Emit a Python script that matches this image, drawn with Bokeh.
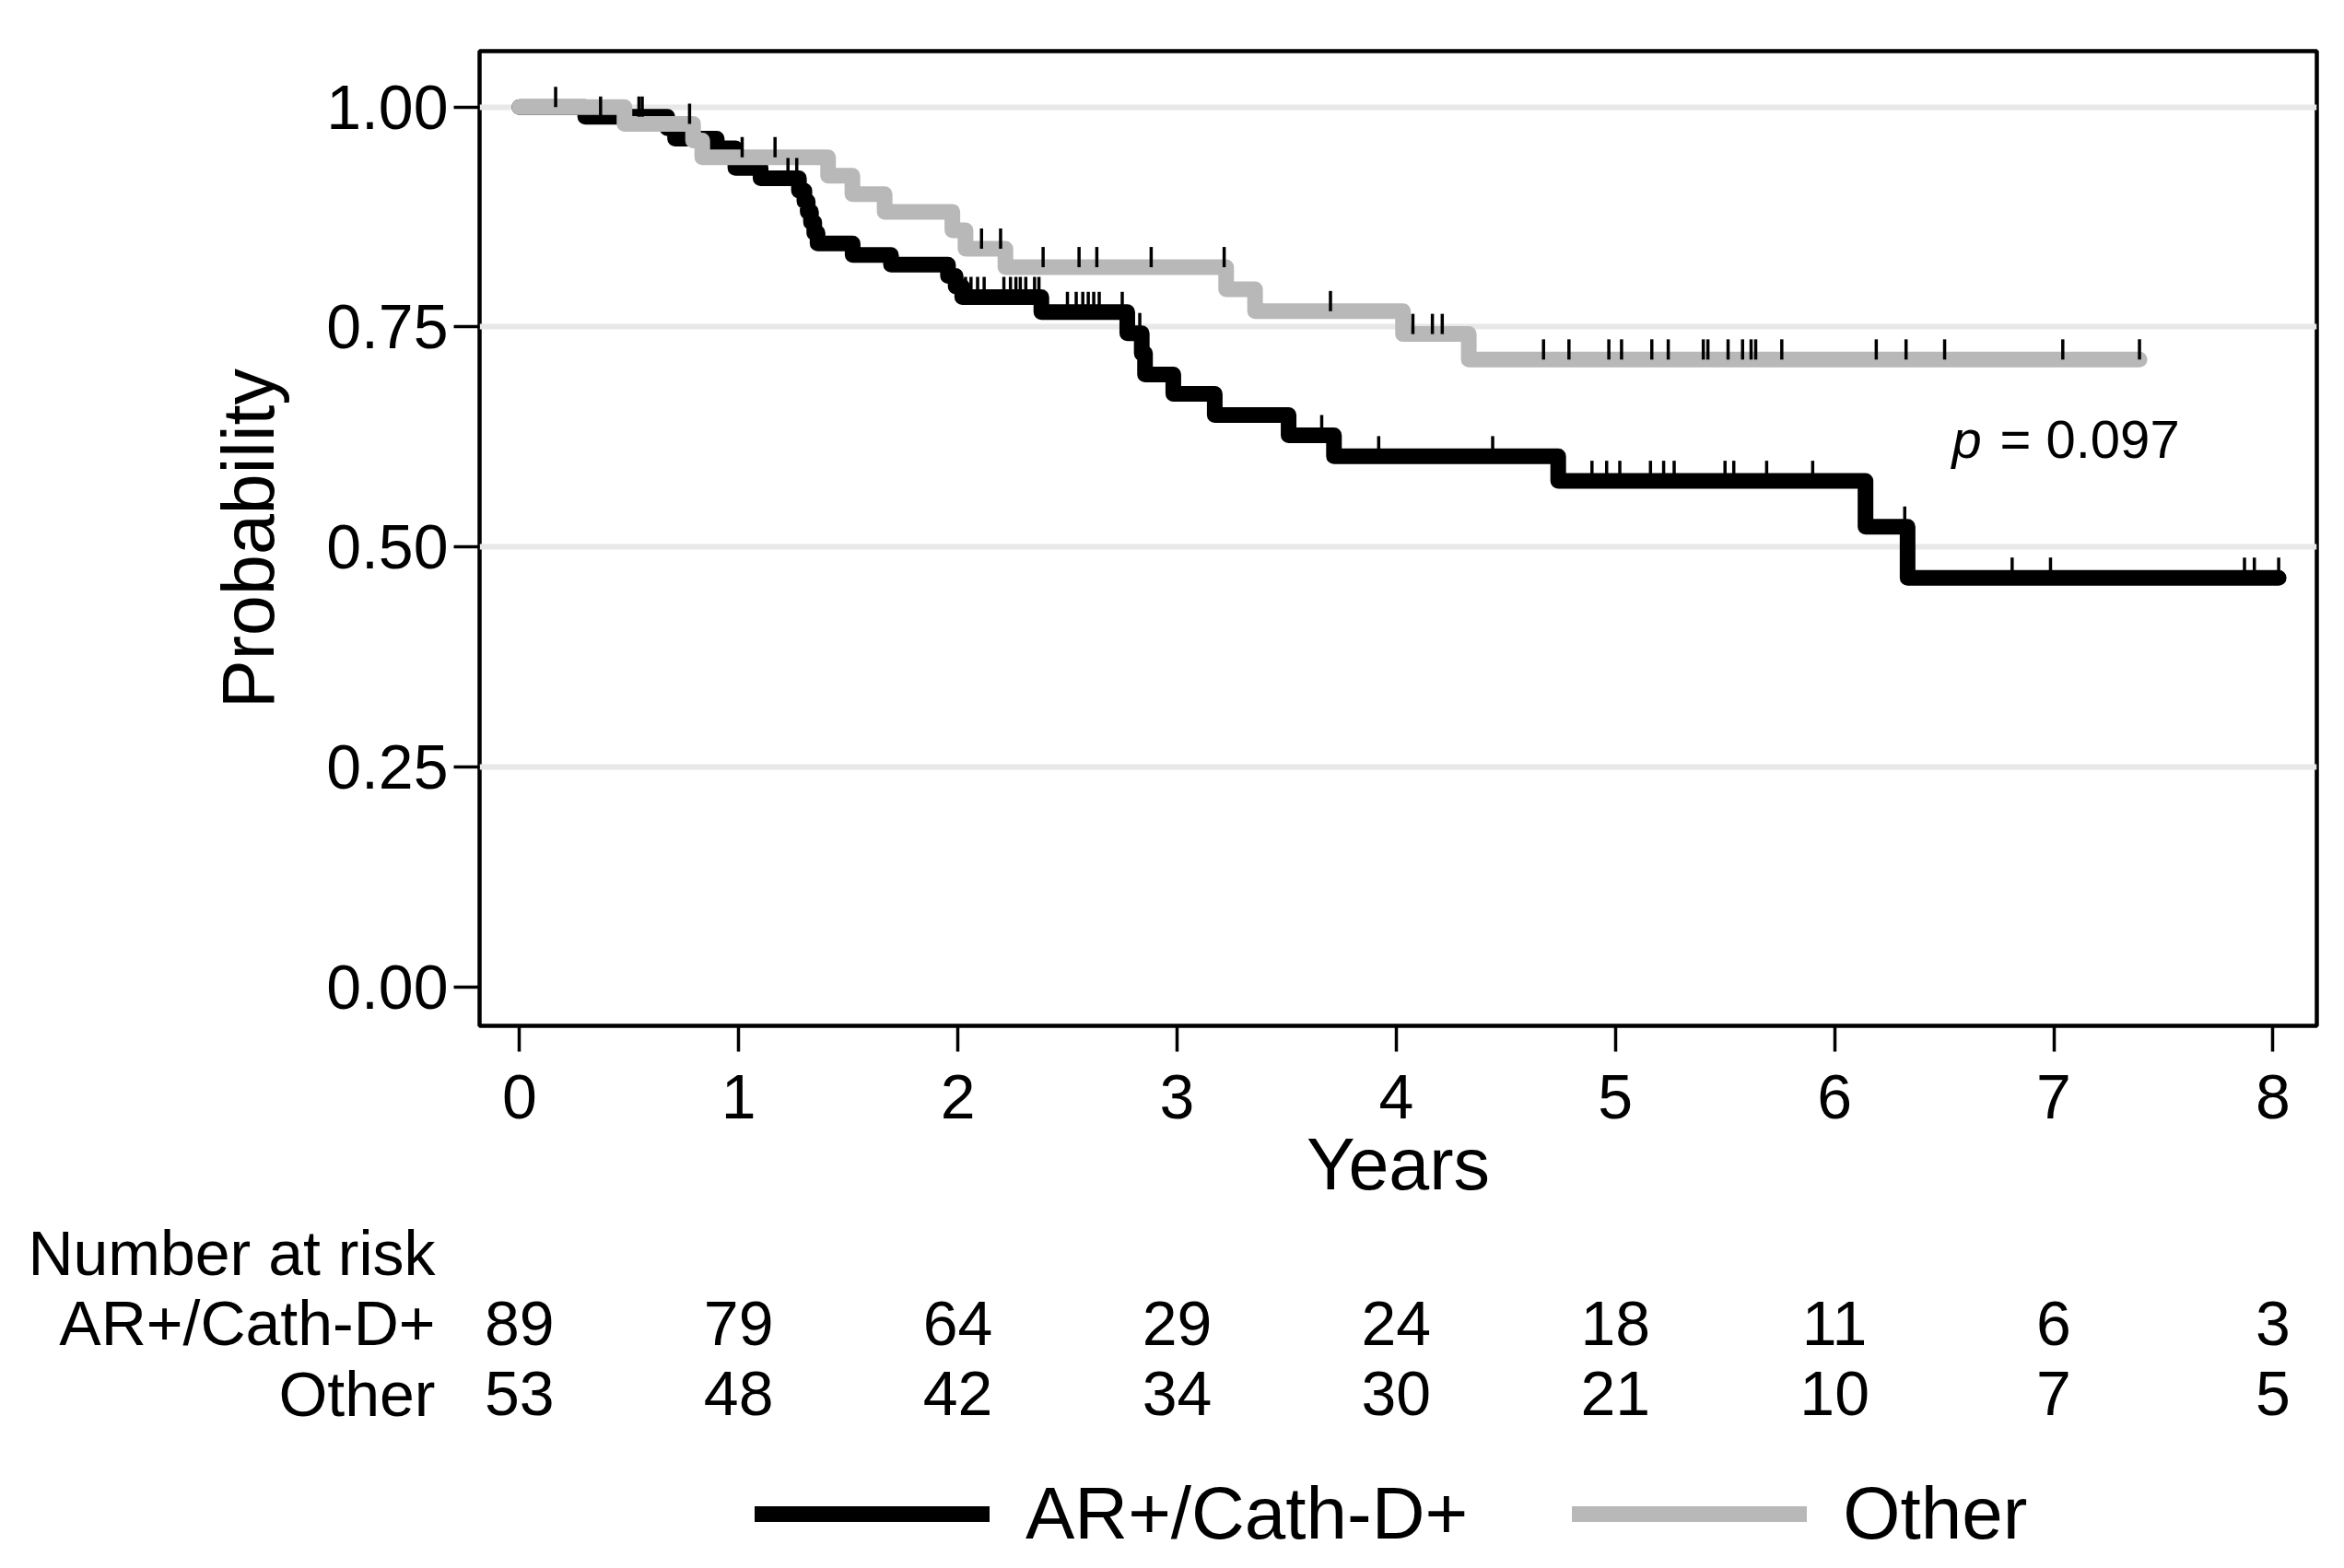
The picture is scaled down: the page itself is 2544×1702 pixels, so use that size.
import numpy as np
from bokeh.plotting import figure
from bokeh.layouts import column
from bokeh.models import Range1d, FixedTicker, Label, Legend, LegendItem
from bokeh.core.properties import value
from bokeh.embed import file_html
from bokeh.resources import INLINE

FONT = "Liberation Sans"

# ---- Kaplan-Meier estimates ----
ar_times = [0, 0.30, 0.675, 0.71, 0.90, 0.985, 1.10, 1.275, 1.30, 1.315, 1.33, 1.345, 1.36,
            1.52, 1.695, 1.955, 1.99, 2.02, 2.381, 2.773, 2.839, 2.854, 2.983, 3.172, 3.509,
            3.716, 4.739, 6.141, 6.333, 8.026]
ar_surv = [1.0, 0.989, 0.976, 0.964, 0.953, 0.931, 0.919, 0.905, 0.893, 0.881, 0.869, 0.857, 0.845,
           0.832, 0.821, 0.808, 0.796, 0.784, 0.767, 0.743, 0.720, 0.696, 0.674, 0.650, 0.627,
           0.603, 0.575, 0.523, 0.465, 0.465]
ar_censor = [0.37, 0.545, 0.56, 1.225, 1.265, 2.035, 2.06, 2.09, 2.12, 2.21, 2.24, 2.265, 2.285,
             2.31, 2.35, 2.37, 2.50, 2.54, 2.57, 2.595, 2.62, 2.645, 2.75, 2.83, 3.66, 3.92, 4.44,
             4.893, 4.96, 5.02, 5.16, 5.22, 5.268, 5.50, 5.54, 5.69, 5.90, 6.32, 6.81, 6.985,
             7.87, 7.915, 8.026]

oth_times = [0, 0.479, 0.792, 0.834, 1.408, 1.519, 1.666, 1.975, 2.035, 2.217, 3.224, 3.356,
             4.031, 4.331, 7.391]
oth_surv = [1.0, 0.981, 0.962, 0.943, 0.922, 0.901, 0.881, 0.860, 0.839, 0.818, 0.793, 0.768,
            0.742, 0.713, 0.713]
oth_censor = [0.165, 0.776, 1.016, 1.166, 2.108, 2.195, 2.389, 2.553, 2.634, 2.882, 3.215, 3.700,
              4.076, 4.165, 4.21, 4.672, 4.788, 4.970, 5.028, 5.166, 5.241, 5.401, 5.422, 5.514,
              5.580, 5.619, 5.640, 5.759, 6.190, 6.326, 6.502, 7.041, 7.391]

group_labels = ["AR+/Cath-D+", "Other"]
table_title = "Number at risk"

xticks = [0, 1, 2, 3, 4, 5, 6, 7, 8]
yticks = [0.0, 0.25, 0.5, 0.75, 1.0]
ytick_labels = ["0.00", "0.25", "0.50", "0.75", "1.00"]
grid_ticks = [0.25, 0.5, 0.75, 1.0]

risk_times = [0, 1, 2, 3, 4, 5, 6, 7, 8]
risk_ar = [89, 79, 64, 29, 24, 18, 11, 6, 3]
risk_other = [53, 48, 42, 34, 30, 21, 10, 7, 5]

p_text = "= 0.097"

BLACK = "black"
GREY = "#b8b8b8"
LW = 17


def surv_at(times, surv, t):
    idx = np.searchsorted(np.asarray(times), np.asarray(t), side="right") - 1
    return np.asarray(surv)[idx]


W = 2528
XR = (-0.182, 8.2)
BL, BR = 520, W - 2514

# ---------------- main Kaplan-Meier plot ----------------
H1 = 1320
p = figure(width=W, height=H1,
           x_range=Range1d(*XR), y_range=Range1d(-0.0443, 1.0636),
           min_border_left=BL, min_border_right=BR, min_border_top=55,
           min_border_bottom=H1 - 1113, output_backend="svg", toolbar_location=None)
p.background_fill_color = "white"
p.border_fill_color = "white"
p.outline_line_color = "black"
p.outline_line_width = 4.5

p.xgrid.visible = False
p.ygrid.ticker = FixedTicker(ticks=grid_ticks)
p.ygrid.grid_line_color = "#e8e8e8"
p.ygrid.grid_line_width = 6

for ax in (p.xaxis[0], p.yaxis[0]):
    ax.axis_line_color = None
    ax.major_tick_in = 0
    ax.major_tick_out = 28
    ax.major_tick_line_width = 3.5
    ax.major_tick_line_color = "black"
    ax.minor_tick_line_color = None
    ax.major_label_text_font = FONT
    ax.major_label_text_font_size = "68px"
    ax.major_label_text_color = "black"
    ax.axis_label_text_font = FONT
    ax.axis_label_text_font_size = "79px"
    ax.axis_label_text_font_style = "normal"
    ax.axis_label_text_color = "black"

p.xaxis.ticker = FixedTicker(ticks=xticks)
p.yaxis.ticker = FixedTicker(ticks=yticks)
p.yaxis.major_label_overrides = {t: l for t, l in zip(yticks, ytick_labels)}
p.yaxis.major_label_orientation = "horizontal"
p.xaxis.axis_label = "Years"
p.yaxis.axis_label = "Probability"
p.xaxis.major_label_standoff = 25
p.yaxis.major_label_standoff = 6
p.xaxis.axis_label_standoff = 2
p.yaxis.axis_label_standoff = 37

p.step(ar_times, ar_surv, mode="after", line_color=BLACK, line_width=LW,
       line_join="round", line_cap="round")
p.step(oth_times, oth_surv, mode="after", line_color=GREY, line_width=LW,
       line_join="round", line_cap="round")

for ct, times, surv in ((ar_censor, ar_times, ar_surv), (oth_censor, oth_times, oth_surv)):
    cs = surv_at(times, surv, ct)
    p.segment(x0=ct, y0=cs, x1=ct, y1=cs + 0.023, line_color="black", line_width=3.5)

P_Y = 0.623
p.add_layout(Label(x=6.535, y=P_Y, text="p", text_font=FONT, text_font_size="58px",
                   text_font_style="italic", text_baseline="alphabetic", text_align="left",
                   text_color="black"))
p.add_layout(Label(x=6.754, y=P_Y, text=p_text, text_font=FONT, text_font_size="58px",
                   text_baseline="alphabetic", text_align="left", text_color="black"))

# ---------------- number-at-risk table ----------------
TOP2 = H1
H2 = 1560 - TOP2
t = figure(width=W, height=H2, x_range=Range1d(*XR), y_range=Range1d(H2, 0),
           x_axis_location=None, y_axis_location="left",
           min_border_left=BL, min_border_right=BR, min_border_top=0, min_border_bottom=0,
           output_backend="svg", toolbar_location=None)
t.outline_line_color = None
t.grid.visible = False
t.background_fill_color = "white"
t.border_fill_color = "white"

row_y = [1359 - TOP2, 1435.5 - TOP2, 1512 - TOP2]
row_names = [table_title] + group_labels
ya = t.yaxis[0]
ya.ticker = FixedTicker(ticks=row_y)
ya.major_label_overrides = {y: n for y, n in zip(row_y, row_names)}
ya.axis_line_color = None
ya.major_tick_line_color = None
ya.minor_tick_line_color = None
ya.major_tick_in = 0
ya.major_tick_out = 0
ya.major_label_standoff = 48
ya.major_label_text_font = FONT
ya.major_label_text_font_size = "68px"
ya.major_label_text_color = "black"
ya.major_label_orientation = "horizontal"

txt_kw = dict(text_font=value(FONT), text_font_size="68px", text_color="black",
              text_baseline="middle", text_align="center")
for ry, counts in ((row_y[1], risk_ar), (row_y[2], risk_other)):
    t.text(x=risk_times, y=[ry] * len(risk_times), text=[str(c) for c in counts], **txt_kw)

# ---------------- legend ----------------
H3 = 1694 - 1560
lg = figure(width=W, height=H3, x_range=Range1d(0, 1), y_range=Range1d(0, 1),
            x_axis_location=None, y_axis_location=None,
            min_border_left=BL, min_border_right=BR, min_border_top=0, min_border_bottom=0,
            output_backend="svg", toolbar_location=None)
lg.outline_line_color = None
lg.grid.visible = False
lg.background_fill_color = "white"
lg.border_fill_color = "white"
d_ar = lg.line(x=[-5, -4], y=[-5, -5], line_color=BLACK, line_width=LW, line_cap="round")
d_oth = lg.line(x=[-5, -4], y=[-5, -5], line_color=GREY, line_width=LW, line_cap="round")
legend = Legend(items=[LegendItem(label=group_labels[0], renderers=[d_ar]),
                       LegendItem(label=group_labels[1], renderers=[d_oth])],
                orientation="horizontal", location=(819 - BL, (H3 - 83) - 48),
                glyph_width=255, glyph_height=96, label_height=96,
                label_standoff=39, spacing=113, padding=0, margin=0,
                border_line_color=None, background_fill_alpha=0,
                label_text_font=FONT, label_text_font_size="80px",
                label_text_color="black")
lg.add_layout(legend, "center")

open("out.html", "w").write(file_html(column(p, t, lg, spacing=0), INLINE))
